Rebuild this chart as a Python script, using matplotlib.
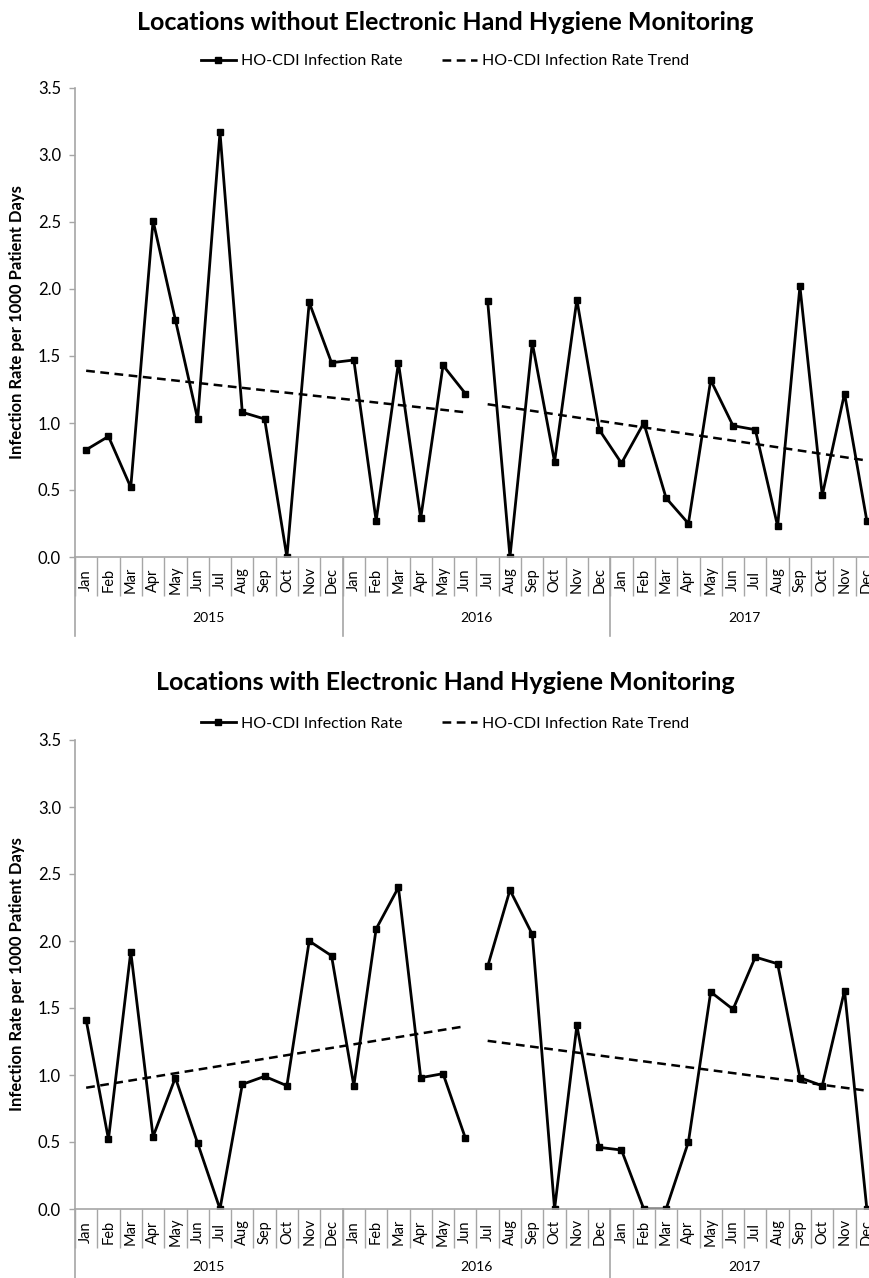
import numpy as np
import matplotlib
matplotlib.use('Agg')
import matplotlib.pyplot as plt
from matplotlib.lines import Line2D

plt.rcParams['font.family'] = ['Lato', 'DejaVu Sans']

months = ['Jan', 'Feb', 'Mar', 'Apr', 'May', 'Jun',
          'Jul', 'Aug', 'Sep', 'Oct', 'Nov', 'Dec'] * 3
years = ['2015', '2016', '2017']

# HO-CDI rate per 1000 patient days, Jan 2015 - Dec 2017
rate_without = [0.80, 0.90, 0.52, 2.51, 1.77, 1.03, 3.17, 1.08, 1.03, 0.00, 1.90, 1.45,
                1.47, 0.27, 1.45, 0.29, 1.43, 1.22, 1.91, 0.00, 1.60, 0.71, 1.92, 0.95,
                0.70, 1.00, 0.44, 0.25, 1.32, 0.98, 0.95, 0.23, 2.02, 0.46, 1.22, 0.27]
rate_with = [1.41, 0.52, 1.92, 0.54, 0.98, 0.49, 0.00, 0.93, 0.99, 0.92, 2.00, 1.89,
             0.92, 2.09, 2.40, 0.98, 1.01, 0.53, 1.81, 2.38, 2.05, 0.00, 1.37, 0.46,
             0.44, 0.00, 0.00, 0.50, 1.62, 1.49, 1.88, 1.83, 0.98, 0.92, 1.63, 0.00]

# trend line end values (before / after the Jul 2016 break)
trend_without = [(1.39, 1.08), (1.14, 0.72)]
trend_with = [(0.905, 1.364), (1.255, 0.883)]

titles = ['Locations without Electronic Hand Hygiene Monitoring',
          'Locations with Electronic Hand Hygiene Monitoring']

split = 18  # series break between Jun and Jul 2016
gray = '#a6a6a6'

fig = plt.figure(figsize=(8.69, 12.78), dpi=100)

panels = [
    # axes rect, rates, trend, title y, legend y, year-sep depth, year label offset
    ([75/869, 721/1278, 803/869, 469/1278], rate_without, trend_without, 1 - 22/1278, 1 - 61/1278, 79, 44),
    ([75/869, 69/1278, 803/869, 469/1278], rate_with, trend_with, 1 - 682/1278, 1 - 724/1278, 69, 42),
]

x = np.arange(len(months))

for (rect, rates, trend, ty, ly, ydepth, yoff), title in zip(panels, titles):
    ax = fig.add_axes(rect)
    r = np.array(rates)
    ax.plot(x[:split], r[:split], color='black', lw=2.0, marker='s', ms=4.5)
    ax.plot(x[split:], r[split:], color='black', lw=2.0, marker='s', ms=4.5)
    ax.plot([x[0], x[split - 1]], trend[0], color='black', lw=1.8, ls=(0, (3.5, 2.2)))
    ax.plot([x[split], x[-1]], trend[1], color='black', lw=1.8, ls=(0, (3.5, 2.2)))

    ax.set_xlim(-0.5, len(months) - 0.5)
    ax.set_ylim(0, 3.5)
    ax.set_yticks(np.arange(0, 3.51, 0.5))
    ax.set_yticklabels(['%.1f' % v for v in np.arange(0, 3.51, 0.5)], fontsize=12)
    ax.tick_params(axis='y', length=4, color=gray, width=1, pad=6)

    # month separators as x ticks
    ax.set_xticks(np.arange(-0.5, len(months), 1))
    ax.set_xticklabels([])
    ax.tick_params(axis='x', length=28, color=gray, width=1)

    for s in ['top', 'right']:
        ax.spines[s].set_visible(False)
    for s in ['left', 'bottom']:
        ax.spines[s].set_color(gray)
        ax.spines[s].set_linewidth(1.2)

    for i, m in enumerate(months):
        ax.annotate(m, (i, 0), xycoords=('data', 'axes fraction'),
                    xytext=(0, -16.5), textcoords='offset points',
                    rotation=90, ha='center', va='center', fontsize=10.5)

    # year separators and labels
    frac = ydepth / 469
    for k, yr in enumerate(years):
        ax.plot([12 * k - 0.5] * 2, [0, -frac], transform=ax.get_xaxis_transform(),
                color=gray, lw=1.2, clip_on=False)
        ax.annotate(yr, (12 * k + 5.5, 0), xycoords=('data', 'axes fraction'),
                    xytext=(0, -yoff), textcoords='offset points',
                    ha='center', va='center', fontsize=10)

    ax.set_ylabel('Infection Rate per 1000 Patient Days', fontsize=12, fontweight='bold')
    ax.yaxis.set_label_coords(-0.062, 0.5)

    fig.text(445/869, ty, title, ha='center', va='center', fontsize=18, fontweight='bold')
    handles = [Line2D([], [], color='black', lw=2.0, marker='s', ms=4.5),
               Line2D([], [], color='black', lw=1.8, ls=(0, (3.5, 2.2)))]
    fig.legend(handles, ['HO-CDI Infection Rate', 'HO-CDI Infection Rate Trend'],
               loc='center', bbox_to_anchor=(445/869, ly), ncol=2, frameon=False,
               fontsize=11.5, handlelength=2.2, columnspacing=2.5, handletextpad=0.3)

fig.savefig('out.png', dpi=100)
